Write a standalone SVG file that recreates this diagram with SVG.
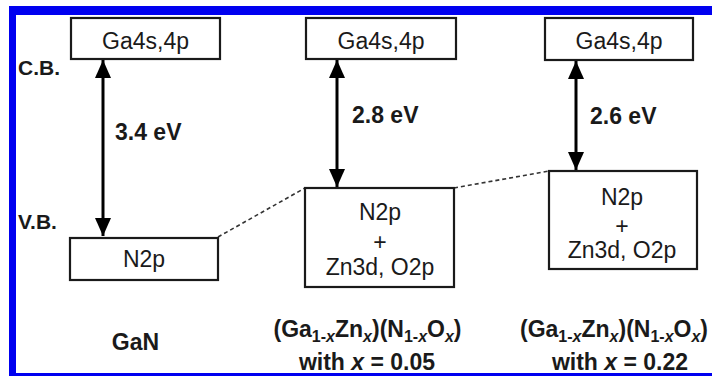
<svg xmlns="http://www.w3.org/2000/svg" width="712" height="376" viewBox="0 0 712 376">
<defs>
<style>
.box{fill:#fff;stroke:#1a1a1a;stroke-width:2.2}
.bt{font-family:"Liberation Sans",Arial,sans-serif;font-size:23px;fill:#1a1a1a;text-anchor:middle}
.lb{font-family:"Liberation Sans",Arial,sans-serif;font-size:23px;font-weight:bold;fill:#1a1a1a}
.ax{font-family:"Liberation Sans",Arial,sans-serif;font-size:21px;font-weight:bold;fill:#1a1a1a}
.arr{stroke:#000;stroke-width:3;fill:none;marker-start:url(#ah);marker-end:url(#ah)}
.dash{stroke:#333;stroke-width:1.6;stroke-dasharray:4 3;fill:none}
.mid{text-anchor:middle}
</style>
<marker id="ah" markerUnits="userSpaceOnUse" markerWidth="18" markerHeight="18" viewBox="0 0 18 16" refX="18" refY="8" orient="auto-start-reverse">
<path d="M0,0 L18,8 L0,16 Z" fill="#000"/>
</marker>
</defs>
<g id="frame">
<rect x="9" y="6" width="703" height="9" fill="#0000f0"/>
<rect x="9" y="6" width="7" height="370" fill="#0000f0"/>
<rect x="9" y="373" width="703" height="3" fill="#0000f0"/>
</g>
<g id="axis-labels">
<text class="ax" x="18" y="75">C.B.</text>
<text class="ax" x="18" y="229">V.B.</text>
</g>
<g id="connectors">
<line class="dash" x1="218" y1="237" x2="305" y2="188"/>
<line class="dash" x1="454" y1="188" x2="549" y2="171"/>
<line class="arr" x1="103" y1="60" x2="103" y2="236"/>
<line class="arr" x1="337" y1="60" x2="337" y2="187"/>
<line class="arr" x1="576" y1="61" x2="576" y2="170"/>
</g>
<g id="gap-labels">
<text class="lb" x="115" y="140">3.4 eV</text>
<text class="lb" x="352" y="123">2.8 eV</text>
<text class="lb" x="590" y="124">2.6 eV</text>
</g>
<g id="gan-cb">
<rect class="box" x="71" y="18" width="149" height="41"/>
<text class="bt" x="145.5" y="49">Ga4s,4p</text>
</g>
<g id="gan-vb">
<rect class="box" x="70" y="238" width="148" height="42"/>
<text class="bt" x="144" y="267">N2p</text>
</g>
<g id="x005-cb">
<rect class="box" x="306" y="18" width="150" height="41"/>
<text class="bt" x="381" y="49">Ga4s,4p</text>
</g>
<g id="x005-vb">
<rect class="box" x="305" y="188" width="149" height="99"/>
<text class="bt" x="380" y="220">N2p</text>
<text class="bt" x="380" y="250">+</text>
<text class="bt" x="380" y="275">Zn3d, O2p</text>
</g>
<g id="x022-cb">
<rect class="box" x="545" y="18" width="148" height="42"/>
<text class="bt" x="619" y="49">Ga4s,4p</text>
</g>
<g id="x022-vb">
<rect class="box" x="549" y="171" width="148" height="98"/>
<text class="bt" x="622" y="205">N2p</text>
<text class="bt" x="622" y="234">+</text>
<text class="bt" x="622" y="258">Zn3d, O2p</text>
</g>
<g id="bottom-labels">
<text class="lb mid" x="135.5" y="350">GaN</text>
<text class="lb mid" x="367.5" y="337">(Ga<tspan font-size="16" dy="5">1-</tspan><tspan font-size="16" font-style="italic">x</tspan><tspan dy="-5">Zn</tspan><tspan font-size="16" font-style="italic" dy="5">x</tspan><tspan dy="-5">)(N</tspan><tspan font-size="16" dy="5">1-</tspan><tspan font-size="16" font-style="italic">x</tspan><tspan dy="-5">O</tspan><tspan font-size="16" font-style="italic" dy="5">x</tspan><tspan dy="-5">)</tspan></text>
<text class="lb mid" x="367" y="370">with <tspan font-style="italic">x</tspan> = 0.05</text>
<text class="lb mid" x="614" y="337">(Ga<tspan font-size="16" dy="5">1-</tspan><tspan font-size="16" font-style="italic">x</tspan><tspan dy="-5">Zn</tspan><tspan font-size="16" font-style="italic" dy="5">x</tspan><tspan dy="-5">)(N</tspan><tspan font-size="16" dy="5">1-</tspan><tspan font-size="16" font-style="italic">x</tspan><tspan dy="-5">O</tspan><tspan font-size="16" font-style="italic" dy="5">x</tspan><tspan dy="-5">)</tspan></text>
<text class="lb mid" x="620" y="370">with <tspan font-style="italic">x</tspan> = 0.22</text>
</g>
</svg>
